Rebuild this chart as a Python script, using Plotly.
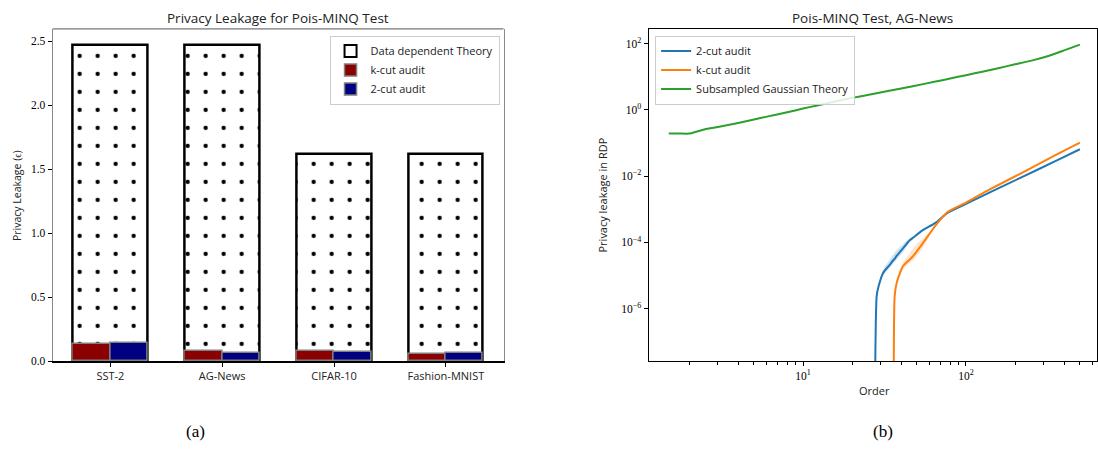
import plotly.graph_objects as go

# ---- data: (a) privacy leakage per dataset ----
datasets = ["SST-2", "AG-News", "CIFAR-10", "Fashion-MNIST"]
theory_eps = [2.47, 2.47, 1.62, 1.62]
kcut_eps = [0.138, 0.080, 0.082, 0.056]
twocut_eps = [0.142, 0.067, 0.069, 0.062]

# ---- data: (b) RDP curves vs order ----
theory_orders = [1.5, 1.75, 2, 2.5, 3, 4, 5, 6, 8, 10, 12, 16, 20, 24, 32, 40, 48,
                 64, 80, 100, 128, 160, 200, 256, 320, 400, 500]
theory_rdp = [0.193, 0.193, 0.193, 0.26, 0.305, 0.406, 0.516, 0.627, 0.853, 1.10, 1.34,
              1.83, 2.31, 2.73, 3.59, 4.45, 5.3, 7.06, 8.9, 11.2, 14.5, 18.5, 23.8, 31.4,
              42.7, 63.0, 93.5]

audit_orders = [27.6, 28.3, 29, 31, 34, 36, 36.5, 37.5, 41, 45, 47, 54, 65, 77, 100,
                139, 222, 356, 500]
twocut_rdp = [1e-9, 2.4e-6, 4.5e-6, 1.2e-5, 2.1e-5, 3.0e-5, 3.2e-5, 3.9e-5, 6.6e-5,
              1.15e-4, 1.35e-4, 2.3e-4, 3.9e-4, 7.8e-4, 1.45e-3, 3.2e-3, 9.5e-3, 0.029,
              0.065]
kcut_rdp = [None, None, None, None, None, 1e-9, 2.4e-6, 5.9e-6, 1.9e-5, 3.0e-5, 3.7e-5,
            9.1e-5, 3.2e-4, 8.3e-4, 1.6e-3, 3.9e-3, 0.0129, 0.0437, 0.1035]

twocut_band_orders = [29, 31, 34, 37.5, 41, 45, 48]
twocut_band_hi = [5e-6, 1.5e-5, 3.0e-5, 5.8e-5, 9.0e-5, 1.3e-4, 1.5e-4]
twocut_band_lo = [4e-6, 1.0e-5, 1.7e-5, 3.0e-5, 5.0e-5, 1.0e-4, 1.4e-4]
kcut_band_orders = [37.5, 41, 45, 47, 54, 60]
kcut_band_hi = [7e-6, 2.4e-5, 4.5e-5, 6.5e-5, 1.3e-4, 2.0e-4]
kcut_band_lo = [5e-6, 1.5e-5, 2.3e-5, 2.8e-5, 6.5e-5, 1.8e-4]

# minor tick positions on the log order axis
minor_orders = [2, 3, 4, 5, 6, 7, 8, 9, 20, 30, 40, 50, 60, 70, 80, 90,
                200, 300, 400, 500, 600]

SANS = "Open Sans"
SERIF = "Liberation Serif"
W, H = 1098, 458

BLUE = "#1f77b4"
ORANGE = "#ff7f0e"
GREEN = "#2ca02c"

fig = go.Figure()

# ---- (a) bars ----
fig.add_trace(go.Bar(
    x=datasets, y=theory_eps, width=0.666, offset=-0.333,
    marker=dict(color="white", line=dict(color="black", width=2.5),
                pattern=dict(shape=".", fgcolor="black", bgcolor="white",
                             fgopacity=1, fillmode="replace",
                             size=18, solidity=0.045)),
    showlegend=False, xaxis="x", yaxis="y"))
# legend swatch for the theory bars (plain outlined box)
fig.add_trace(go.Bar(
    x=[datasets[0]], y=[None], name="Data dependent Theory",
    marker=dict(color="white", line=dict(color="black", width=2)),
    legend="legend", xaxis="x", yaxis="y"))
fig.add_trace(go.Bar(
    x=datasets, y=kcut_eps, width=0.333, offset=-0.333, name="k-cut audit",
    marker=dict(color="#8b0000", line=dict(color="#808080", width=1.5)),
    legend="legend", xaxis="x", yaxis="y"))
fig.add_trace(go.Bar(
    x=datasets, y=twocut_eps, width=0.333, offset=0.0, name="2-cut audit",
    marker=dict(color="#000080", line=dict(color="#808080", width=1.5)),
    legend="legend", xaxis="x", yaxis="y"))

# ---- (b) curves ----
def band(xs, hi, lo, color):
    return go.Scatter(x=xs + xs[::-1], y=hi + lo[::-1], fill="toself",
                      fillcolor=color, line=dict(width=0, shape="spline"), mode="lines",
                      hoverinfo="skip", showlegend=False, xaxis="x2", yaxis="y2")

fig.add_trace(band(twocut_band_orders, twocut_band_hi, twocut_band_lo,
                   "rgba(31,119,180,0.2)"))
fig.add_trace(band(kcut_band_orders, kcut_band_hi, kcut_band_lo,
                   "rgba(255,127,14,0.2)"))
fig.add_trace(go.Scatter(x=audit_orders, y=twocut_rdp, mode="lines", name="2-cut audit",
                         line=dict(color=BLUE, width=2, shape="spline", smoothing=0.6),
                         legend="legend2", xaxis="x2", yaxis="y2"))
fig.add_trace(go.Scatter(x=audit_orders, y=kcut_rdp, mode="lines", name="k-cut audit",
                         line=dict(color=ORANGE, width=2, shape="spline", smoothing=0.6),
                         legend="legend2", xaxis="x2", yaxis="y2"))
fig.add_trace(go.Scatter(x=theory_orders, y=theory_rdp, mode="lines",
                         name="Subsampled Gaussian Theory",
                         line=dict(color=GREEN, width=2, shape="spline", smoothing=0.4),
                         legend="legend2", xaxis="x2", yaxis="y2"))
# invisible carrier so the minor-tick axis is drawn
fig.add_trace(go.Scatter(x=[10], y=[1], mode="markers", marker=dict(opacity=0),
                         hoverinfo="skip", showlegend=False, xaxis="x3", yaxis="y2"))

# ---- geometry (pixels -> paper) ----
def px(x):
    return x / W

def py(y):
    return (H - y) / H

a_x0, a_x1 = 52.7, 504.0
b_x0, b_x1 = 649.3, 1098.0
top, bottom = 29.3, 366.0
XR2 = [0.0528, 2.804]

tickfont = dict(family=SERIF, size=11.5, color="black")

fig.update_layout(
    width=W, height=H, margin=dict(l=0, r=0, t=0, b=0),
    paper_bgcolor="white", plot_bgcolor="white",
    barmode="overlay", bargap=0,
    xaxis=dict(domain=[px(a_x0), px(a_x1)], type="category",
               range=[-0.516, 3.516], showline=True, linecolor="black", linewidth=1.5,
               mirror=False, ticks="outside", ticklen=4, tickcolor="black",
               tickfont=dict(family=SANS, size=11, color="#222"), showgrid=False,
               zeroline=False, fixedrange=True),
    yaxis=dict(domain=[py(bottom), py(top)], range=[0, 2.596],
               tickvals=[0, 0.5, 1.0, 1.5, 2.0, 2.5],
               ticktext=["0.0", "0.5", "1.0", "1.5", "2.0", "2.5"],
               showline=True, linecolor="#8a8a8a", linewidth=1, mirror=True,
               ticks="outside", ticklen=4, tickcolor="black", tickfont=tickfont,
               showgrid=False, zeroline=False),
    xaxis2=dict(domain=[px(b_x0), px(b_x1)], type="log", range=XR2,
                tickvals=[10, 100], ticktext=["10<sup>1</sup>", "10<sup>2</sup>"],
                showline=True, linecolor="black", linewidth=1.2, mirror=True,
                ticks="outside", ticklen=4, tickcolor="black", tickfont=tickfont,
                showgrid=False, zeroline=False, anchor="y2"),
    xaxis3=dict(overlaying="x2", anchor="y2", type="log", range=XR2,
                tickvals=minor_orders, showticklabels=False, ticks="outside",
                ticklen=2.5, tickcolor="black", showline=False, showgrid=False,
                zeroline=False),
    yaxis2=dict(domain=[py(bottom), py(top)], type="log", range=[-7.586, 2.446],
                tickvals=[1e-6, 1e-4, 1e-2, 1, 100],
                ticktext=["10<sup>\u22126</sup>", "10<sup>\u22124</sup>",
                          "10<sup>\u22122</sup>", "10<sup>0</sup>", "10<sup>2</sup>"],
                showline=True, linecolor="black", linewidth=1.2, mirror=True,
                ticks="outside", ticklen=4, tickcolor="black", tickfont=tickfont,
                showgrid=False, zeroline=False, anchor="x2"),
    legend=dict(x=px(500), y=py(36), xanchor="right", yanchor="top",
                bgcolor="rgba(255,255,255,0.85)", bordercolor="#cccccc", borderwidth=1,
                font=dict(family=SANS, size=11, color="#222"), traceorder="normal",
                tracegroupgap=0),
    legend2=dict(x=px(655.7), y=py(36), xanchor="left", yanchor="top",
                 bgcolor="rgba(255,255,255,0.85)", bordercolor="#cccccc", borderwidth=1,
                 font=dict(family=SANS, size=11, color="#222"), traceorder="normal"),
    shapes=[dict(type="line", xref="paper", yref="paper", x0=px(a_x0), x1=px(a_x1),
                 y0=py(top), y1=py(top), line=dict(color="#555555", width=1))],
)

annotations = [
    dict(text="Privacy Leakage for Pois-MINQ Test", x=px((a_x0 + a_x1) / 2), y=py(18),
         font=dict(family=SANS, size=13.5, color="#222")),
    dict(text="Pois-MINQ Test, AG-News", x=px((b_x0 + b_x1) / 2), y=py(18),
         font=dict(family=SANS, size=13.5, color="#222")),
    dict(text="Privacy Leakage (\u03f5)", x=px(17), y=py((top + bottom) / 2),
         textangle=-90, font=dict(family=SANS, size=10.5, color="#222")),
    dict(text="Privacy leakage in RDP", x=px(603), y=py((top + bottom) / 2),
         textangle=-90, font=dict(family=SANS, size=11, color="#222")),
    dict(text="Order", x=px(875), y=py(396), font=dict(family=SANS, size=11, color="#222")),
    dict(text="(a)", x=px(196), y=py(437), font=dict(family=SERIF, size=17, color="black")),
    dict(text="(b)", x=px(884), y=py(437), font=dict(family=SERIF, size=17, color="black")),
]
for a in annotations:
    a.update(xref="paper", yref="paper", showarrow=False, xanchor="center",
             yanchor="middle")
fig.update_layout(annotations=annotations)

fig.write_html("out.html")
